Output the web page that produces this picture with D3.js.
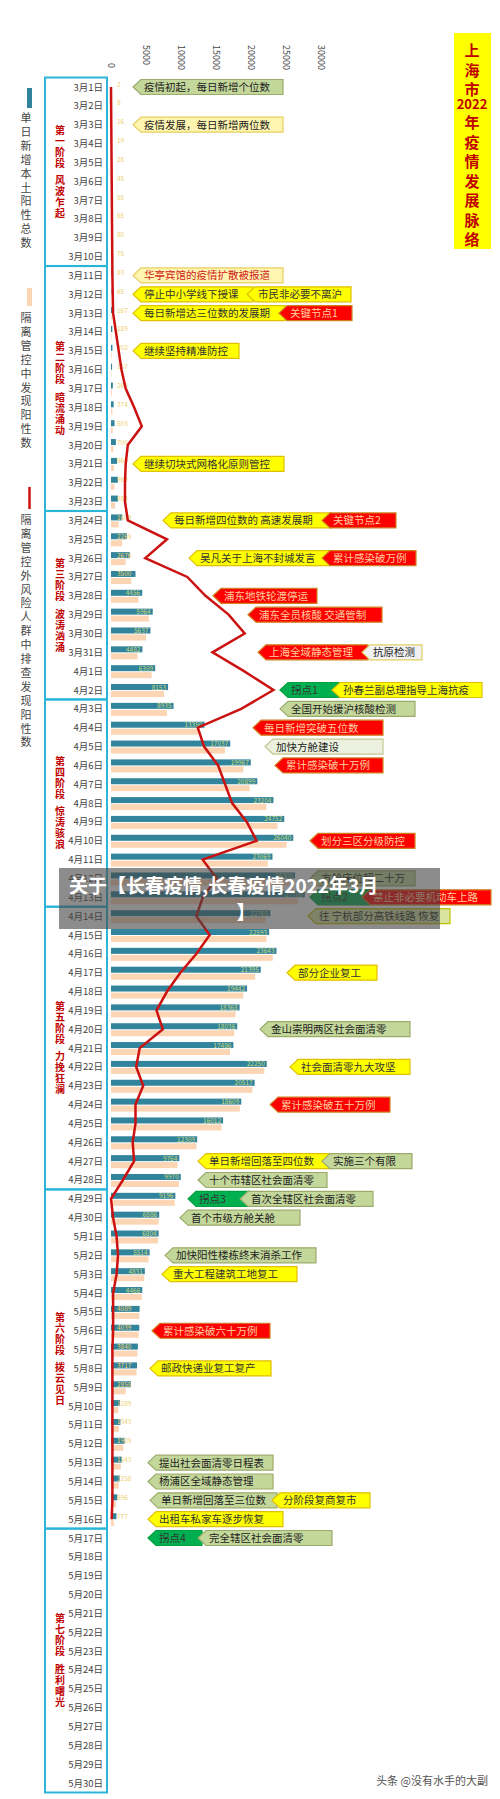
<!doctype html>
<html>
<head>
<meta charset="utf-8">
<style>
body { margin:0; background:#fff; }
svg text { font-family: "Noto Sans CJK SC", "Noto Sans", sans-serif; }
</style>
</head>
<body>
<div id="chart"></div>
<script src="https://cdn.jsdelivr.net/npm/d3@7"></script>
<script>
// 日期
var dates = [];
for (var d = 1; d <= 31; d++) dates.push("3月" + d + "日");
for (var d = 1; d <= 30; d++) dates.push("4月" + d + "日");
for (var d = 1; d <= 30; d++) dates.push("5月" + d + "日");

// 单日新增本土阳性总数 (3/1 - 5/16)
var totalPos = [2,8,16,19,28,45,55,65,80,75, 83,65,167,189,202,157,260,374,503,700,860,980,983,
  1609,2269,2676,3500,4456,5964,5637,4482,6309,8153,
  8935,13350,17037,19967,20899,23204,24752,26040,23069,26300,27700,
  22765,22593,23643,21395,19442,18368,18036,17486,22250,20517,18609,16012,12309,9764,9970,
  9196,6886,6804,5514,4831,4466,4089,4039,3840,3717,2858,1289,1343,1929,1543,1258,896,777];
// 隔离管控中发现阳性数
var inControl = [0,2,4,6,8,12,15,20,25,22, 30,25,60,80,95,80,130,200,250,330,420,480,600,
  1100,1600,2100,2900,3900,5400,5000,3800,5800,7600,
  8000,12500,16300,18900,19800,22200,23800,25100,22400,25500,26700,
  22100,22200,23100,20600,18900,17800,17600,17000,21900,20200,18400,15800,12200,9500,9700,
  9100,6800,6700,5350,4750,4400,4050,3950,3780,3650,2100,1050,1150,1750,1400,1100,700,400];
// 隔离管控外风险人群中排查发现阳性数
var outControl = [0,2,4,6,8,10,12,14,16,18, 20,25,30,70,110,150,210,330,440,240,210,200,200,
  240,800,490,1090,1350,1680,1910,1450,1900,2320,
  1860,1240,1330,1530,1630,1730,1940,2080,1310,1510,1310,
  1220,1410,1220,990,800,650,740,410,360,460,350,350,310,330,170,
  0,30,80,100,80,30,30,30,20,20,20,20,20,20,20,20,20,10];

var ticks = [0,5000,10000,15000,20000,25000,30000];

var phases = [
  {from:0, to:9, name:"第一阶段 风波乍起"},
  {from:10, to:22, name:"第二阶段 暗流涌动"},
  {from:23, to:32, name:"第三阶段 波涛汹涌"},
  {from:33, to:43, name:"第四阶段 惊涛骇浪"},
  {from:44, to:58, name:"第五阶段 力挽狂澜"},
  {from:59, to:76, name:"第六阶段 拨云见日"},
  {from:77, to:90, name:"第七阶段 胜利曙光"}
];

// 事件标签: 日期, 左端x, 宽, 类型, 文字
var notes = [
  ["3月1日",133,150,"olive","疫情初起，每日新增个位数"],
  ["3月3日",133,150,"pale","疫情发展，每日新增两位数"],
  ["3月11日",133,150,"palered","华亭宾馆的疫情扩散被报道"],
  ["3月12日",133,120,"yellow","停止中小学线下授课"],
  ["3月12日",247,104,"yellow","市民非必要不离沪"],
  ["3月13日",133,152,"yellow","每日新增达三位数的发展期"],
  ["3月13日",279,73,"red","关键节点1"],
  ["3月15日",133,106,"yellow","继续坚持精准防控"],
  ["3月21日",133,151,"yellow","继续切块式网格化原则管控"],
  ["3月24日",163,168,"yellow","每日新增四位数的 高速发展期"],
  ["3月24日",322,74,"red","关键节点2"],
  ["3月26日",189,141,"yellow","吴凡关于上海不封城发言"],
  ["3月26日",322,94,"red","累计感染破万例"],
  ["3月28日",213,104,"red","浦东地铁轮渡停运"],
  ["3月29日",248,134,"red","浦东全员核酸 交通管制"],
  ["3月31日",258,110,"red","上海全域静态管理"],
  ["3月31日",362,60,"white","抗原检测"],
  ["4月2日",280,60,"green","拐点1"],
  ["4月2日",332,150,"yellow","孙春兰副总理指导上海抗疫"],
  ["4月3日",280,135,"olive","全国开始援沪核酸检测"],
  ["4月4日",253,130,"red","每日新增突破五位数"],
  ["4月5日",265,118,"light","加快方舱建设"],
  ["4月6日",275,108,"red","累计感染破十万例"],
  ["4月10日",310,105,"red","划分三区分级防控"],
  ["4月12日",310,105,"olive","方舱床位超二十万"],
  ["4月13日",310,60,"green","拐点2"],
  ["4月13日",362,129,"red","禁止非必要机动车上路"],
  ["4月14日",308,142,"yolive","往 宁杭部分高铁线路 恢复"],
  ["4月17日",287,90,"yellow","部分企业复工"],
  ["4月20日",260,150,"olive","金山崇明两区社会面清零"],
  ["4月22日",290,120,"yellow","社会面清零九大攻坚"],
  ["4月24日",270,120,"red","累计感染破五十万例"],
  ["4月27日",198,132,"yellow","单日新增回落至四位数"],
  ["4月27日",322,90,"olive","实施三个有限"],
  ["4月28日",198,129,"olive","十个市辖区社会面清零"],
  ["4月29日",188,62,"green","拐点3"],
  ["4月29日",240,133,"olive","首次全辖区社会面清零"],
  ["4月30日",180,120,"olive","首个市级方舱关舱"],
  ["5月2日",165,151,"olive","加快阳性楼栋终末消杀工作"],
  ["5月3日",162,135,"yellow","重大工程建筑工地复工"],
  ["5月6日",152,118,"red","累计感染破六十万例"],
  ["5月8日",150,121,"yellow","邮政快递业复工复产"],
  ["5月13日",148,125,"olive","提出社会面清零日程表"],
  ["5月14日",148,125,"olive","杨浦区全域静态管理"],
  ["5月15日",150,127,"olive","单日新增回落至三位数"],
  ["5月15日",272,98,"yellow","分阶段复商复市"],
  ["5月16日",148,135,"yellow","出租车私家车逐步恢复"],
  ["5月17日",148,54,"green","拐点4"],
  ["5月17日",198,134,"olive","完全辖区社会面清零"]
];

var styles = {
  olive:   {fill:"#c4d79b", stroke:"#9bab6a", text:"#222"},
  pale:    {fill:"#fff5b0", stroke:"#e8d060", text:"#222"},
  palered: {fill:"#fff5b0", stroke:"#e8d060", text:"#d02020"},
  yellow:  {fill:"#ffff00", stroke:"#e0c000", text:"#333"},
  red:     {fill:"#ff0000", stroke:"#d08020", text:"#ffcfa0"},
  white:   {fill:"#f2f2f2", stroke:"#e0d060", text:"#222"},
  light:   {fill:"#ebf1de", stroke:"#c4c890", text:"#222"},
  green:   {fill:"#00b050", stroke:"#00a040", text:"#333"},
  yolive:  {fill:"#d8e4a0", stroke:"#c0c000", text:"#222"}
};

var W = 500, H = 1799;
var svg = d3.select("#chart").append("svg").attr("width", W).attr("height", H);

var x = d3.scaleLinear().domain([0, 30000]).range([111, 321]);
var xr = d3.scaleLinear().domain([0, 3000]).range([111, 321]);
var y = d3.scalePoint().domain(dates).range([87, 1783]);

// 顶部刻度 (旋转)
svg.selectAll(".tick").data(ticks).enter().append("text")
  .attr("transform", function(t){ return "translate(" + (x(t) - 3) + "," + (t === 0 ? 63 : 45) + ") rotate(90)"; })
  .attr("font-size", 9).attr("fill", "#444").text(function(t){ return t; });

// 阶段框
phases.forEach(function(p) {
  var y0 = y(dates[p.from]) - 9.5, y1 = y(dates[p.to]) + 9.5;
  svg.append("rect").attr("x", 45).attr("y", y0).attr("width", 62).attr("height", y1 - y0)
    .attr("fill", "none").attr("stroke", "#2bb5d8").attr("stroke-width", 2);
  var chars = p.name.replace(" ", "").split("");
  var mid = (y0 + y1) / 2, step = 11;
  var start = mid - (chars.length + 0.6) * step / 2;
  chars.forEach(function(c, i) {
    svg.append("text").attr("x", 60).attr("y", start + i * step + (i >= 4 ? step * 0.6 : 0) + 9)
      .attr("text-anchor", "middle").attr("font-size", 10).attr("font-weight", "bold")
      .attr("fill", "#c00000").text(c);
  });
});

// 日期标签
svg.selectAll(".date").data(dates).enter().append("text")
  .attr("x", 103).attr("y", function(d){ return y(d) + 3.5; })
  .attr("text-anchor", "end").attr("font-size", 9.5).attr("fill", "#444")
  .text(function(d){ return d; });

var barDates = dates.slice(0, totalPos.length);

// 隔离管控中 (浅橙)
svg.selectAll(".bin").data(inControl).enter().append("rect")
  .attr("x", x(0)).attr("y", function(d, i){ return y(barDates[i]) + 1; })
  .attr("width", function(d){ return x(d) - x(0); }).attr("height", 6)
  .attr("fill", "#fcd5b4");

// 总数 (蓝)
svg.selectAll(".btot").data(totalPos).enter().append("rect")
  .attr("x", x(0)).attr("y", function(d, i){ return y(barDates[i]) - 6; })
  .attr("width", function(d){ return x(d) - x(0); }).attr("height", 6)
  .attr("fill", "#31849b");

// 数值
svg.selectAll(".lbl").data(totalPos).enter().append("text")
  .attr("x", function(d){ return x(d) > 140 ? x(d) - 2 : 117; })
  .attr("y", function(d, i){ return y(barDates[i]) - 0.5; })
  .attr("text-anchor", function(d){ return x(d) > 140 ? "end" : "start"; })
  .attr("font-size", 6.5)
  .attr("fill", function(d){ return x(d) > 140 ? "#c8d87a" : "#f0cf70"; })
  .text(function(d){ return d; });

// 隔离管控外 (红线)
var line = d3.line()
  .x(function(d){ return xr(d); })
  .y(function(d, i){ return y(barDates[i]); });
svg.append("path").attr("d", line(outControl))
  .attr("fill", "none").attr("stroke", "#cc1111").attr("stroke-width", 2.5);

// 事件标签
notes.forEach(function(n) {
  var s = styles[n[3]], cy = y(n[0]), x0 = n[1], w = n[2], h = 15, tip = 8;
  var pts = [[x0, cy], [x0 + tip, cy - h/2], [x0 + w, cy - h/2], [x0 + w, cy + h/2], [x0 + tip, cy + h/2]];
  svg.append("polygon").attr("points", pts.map(function(p){ return p.join(","); }).join(" "))
    .attr("fill", s.fill).attr("stroke", s.stroke).attr("stroke-width", 1.2);
  svg.append("text").attr("x", x0 + tip + 3).attr("y", cy + 4)
    .attr("font-size", 10.5).attr("fill", s.text).attr("textLength", null).text(n[4]);
});

// 图例
svg.append("rect").attr("x", 27).attr("y", 88).attr("width", 5).attr("height", 20).attr("fill", "#31849b");
svg.append("rect").attr("x", 27).attr("y", 288).attr("width", 5).attr("height", 18).attr("fill", "#fcd5b4");
svg.append("line").attr("x1", 29.5).attr("x2", 29.5).attr("y1", 487).attr("y2", 509)
  .attr("stroke", "#cc1111").attr("stroke-width", 2.5);
function vtext(str, cx, top, step, size, color, bold) {
  str.split("").forEach(function(c, i) {
    svg.append("text").attr("x", cx).attr("y", top + i * step).attr("text-anchor", "middle")
      .attr("font-size", size).attr("fill", color).attr("font-weight", bold ? "bold" : "normal").text(c);
  });
}
vtext("单日新增本土阳性总数", 26, 122, 13.9, 11, "#444");
vtext("隔离管控中发现阳性数", 26, 322, 13.9, 11, "#444");
vtext("隔离管控外风险人群中排查发现阳性数", 26, 524, 13.9, 11, "#444");

// 标题
svg.append("rect").attr("x", 454).attr("y", 33).attr("width", 37).attr("height", 216).attr("fill", "#ffff00");
vtext("上海市", 472, 56, 19.5, 15, "#c00000", true);
svg.append("text").attr("x", 472).attr("y", 109).attr("text-anchor", "middle")
  .attr("font-size", 13).attr("font-weight", "bold").attr("fill", "#c00000").text("2022");
vtext("年疫情发展脉络", 472, 128, 19.5, 15, "#c00000", true);

// 水印
svg.append("rect").attr("x", 59).attr("y", 868).attr("width", 381).attr("height", 61).attr("fill", "rgba(70,70,70,0.62)");
svg.append("text").attr("x", 69).attr("y", 893).attr("font-size", 19).attr("font-weight", "bold")
  .attr("fill", "#fff").text("关于【长春疫情,长春疫情2022年3月");
svg.append("text").attr("x", 246).attr("y", 920).attr("font-size", 19).attr("font-weight", "bold")
  .attr("fill", "#fff").attr("text-anchor", "middle").text("】");
svg.append("text").attr("x", 488).attr("y", 1785).attr("text-anchor", "end").attr("font-size", 11)
  .attr("fill", "#555").text("头条 @没有水手的大副");
</script>
</body>
</html>
